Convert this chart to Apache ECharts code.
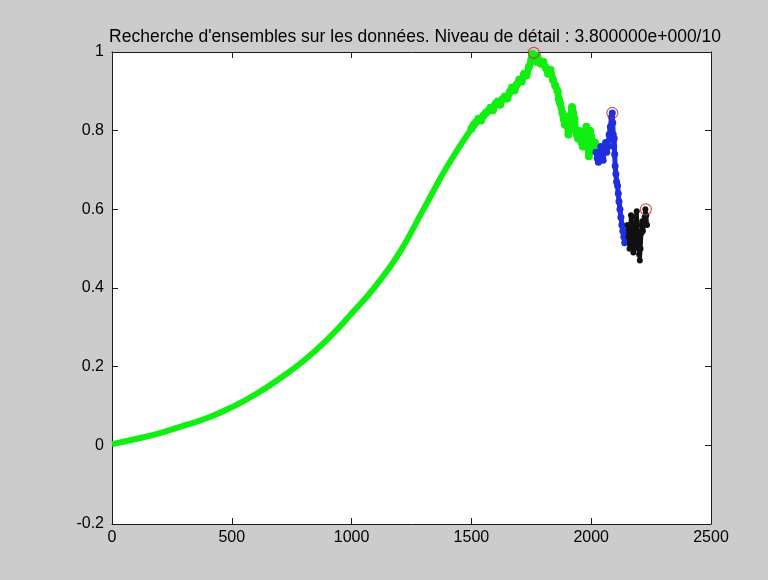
<!DOCTYPE html>
<html>
<head>
<meta charset="utf-8">
<script src="https://cdn.jsdelivr.net/npm/echarts@6/dist/echarts.min.js"></script>
<style>
html,body{margin:0;padding:0;background:#cccccc;}
#chart{width:768px;height:580px;}
</style>
</head>
<body>
<div id="chart"></div>
<script>
const titleText = "Recherche d'ensembles sur les données. Niveau de détail : 3.800000e+000/10";
const xTicks = [0, 500, 1000, 1500, 2000, 2500];
const yTicks = [-0.2, 0, 0.2, 0.4, 0.6, 0.8, 1];

// smooth green part
const greenSmoothX = [0, 100, 200, 300, 400, 500, 600, 700, 800, 900, 1000, 1100, 1200, 1300, 1400, 1500];
const greenSmoothY = [0.003, 0.016, 0.031, 0.05, 0.07, 0.097, 0.13, 0.17, 0.215, 0.27, 0.335, 0.405, 0.49, 0.6, 0.71, 0.805];

// noisy green part
const greenNoisyX = [1500,1510,1520,1530,1540,1550,1560,1570,1580,1590,1600,1610,1620,1630,1640,1650,1660,1670,1680,1690,1700,1710,1720,1730,1740,1750,1755,1760,1770,1775,1780,1790,1800,1810,1820,1830,1840,1850,1860,1865,1870,1880,1885,1890,1895,1900,1905,1910,1915,1920,1925,1930,1935,1940,1945,1950,1955,1960,1965,1970,1975,1980,1985,1990,1995,2000,2005,2010,2015,2020];
const greenNoisyY = [0.805,0.815,0.822,0.83,0.826,0.838,0.845,0.85,0.858,0.852,0.868,0.874,0.866,0.88,0.887,0.882,0.898,0.91,0.902,0.918,0.93,0.925,0.945,0.94,0.962,0.98,0.995,0.985,0.975,0.99,0.98,0.97,0.975,0.96,0.945,0.955,0.93,0.915,0.9,0.88,0.87,0.845,0.83,0.815,0.835,0.82,0.79,0.815,0.84,0.86,0.845,0.83,0.8,0.79,0.78,0.8,0.79,0.77,0.76,0.775,0.795,0.81,0.77,0.735,0.8,0.785,0.765,0.75,0.77,0.76];

// blue part
const blueX = [2020,2025,2030,2035,2040,2045,2050,2055,2060,2065,2070,2075,2080,2085,2088,2090,2092,2094,2096,2098,2100,2103,2106,2110,2113,2116,2120,2124,2128,2132,2136,2140,2144,2148,2152,2156];
const blueY = [0.745,0.73,0.72,0.74,0.76,0.735,0.725,0.75,0.77,0.745,0.76,0.79,0.81,0.835,0.845,0.82,0.79,0.76,0.78,0.74,0.71,0.69,0.67,0.66,0.64,0.62,0.6,0.58,0.56,0.545,0.53,0.515,0.535,0.52,0.54,0.555];

// black part
const blackX = [2152,2156,2160,2163,2166,2170,2173,2176,2180,2183,2186,2190,2193,2196,2200,2203,2206,2210,2213,2216,2220,2223,2226,2230,2233];
const blackY = [0.56,0.53,0.5,0.55,0.585,0.56,0.52,0.49,0.5,0.54,0.58,0.595,0.56,0.52,0.485,0.47,0.5,0.54,0.57,0.545,0.56,0.58,0.6,0.585,0.56];

// maxima circles
const peakX = [1760, 2088, 2228];
const peakY = [0.998, 0.845, 0.600];

const zip = (xs, ys) => xs.map((x, i) => [x, ys[i]]);

const font = 'Liberation Sans, Arial, sans-serif';
const axisColor = '#1a1a1a';

const chart = echarts.init(document.getElementById('chart'), null, {renderer: 'canvas'});
chart.setOption({
  backgroundColor: '#cccccc',
  animation: false,
  title: {
    text: titleText,
    left: 410, top: 23, textAlign: 'center',
    textStyle: {fontFamily: font, fontSize: 17.5, fontWeight: 'normal', color: '#000'}
  },
  grid: {left: 112, right: 57, top: 52, bottom: 56, show: true, backgroundColor: '#ffffff', borderWidth: 0},
  xAxis: [{
    type: 'value', min: 0, max: 2500, interval: 500, position: 'bottom',
    axisLine: {show: true, onZero: false, lineStyle: {color: axisColor, width: 1}},
    axisTick: {show: true, inside: true, length: 6, lineStyle: {color: axisColor}},
    axisLabel: {show: true, color: '#000', fontFamily: font, fontSize: 16, margin: 6,
      formatter: v => xTicks.includes(v) ? String(v) : ''},
    splitLine: {show: false}
  }, {
    type: 'value', min: 0, max: 2500, interval: 500, position: 'top',
    axisLine: {show: true, onZero: false, lineStyle: {color: axisColor, width: 1}},
    axisTick: {show: true, inside: true, length: 6, lineStyle: {color: axisColor}},
    axisLabel: {show: false}, splitLine: {show: false}
  }],
  yAxis: [{
    type: 'value', min: -0.2, max: 1, interval: 0.2, position: 'left',
    axisLine: {show: true, onZero: false, lineStyle: {color: axisColor, width: 1}},
    axisTick: {show: true, inside: true, length: 6, lineStyle: {color: axisColor}},
    axisLabel: {show: true, color: '#000', fontFamily: font, fontSize: 16, margin: 8,
      formatter: v => { const r = Math.round(v * 10) / 10; return yTicks.includes(r) ? String(r) : ''; }},
    splitLine: {show: false}
  }, {
    type: 'value', min: -0.2, max: 1, interval: 0.2, position: 'right',
    axisLine: {show: true, onZero: false, lineStyle: {color: axisColor, width: 1}},
    axisTick: {show: true, inside: true, length: 6, lineStyle: {color: axisColor}},
    axisLabel: {show: false}, splitLine: {show: false}
  }],
  series: [
    {type: 'line', data: zip(greenSmoothX, greenSmoothY), smooth: true, showSymbol: false,
      lineStyle: {color: '#11ee11', width: 6}, z: 2},
    {type: 'line', data: zip(greenNoisyX, greenNoisyY), symbol: 'circle', symbolSize: 8,
      itemStyle: {color: '#11ee11'}, lineStyle: {color: '#11ee11', width: 7}, z: 2},
    {type: 'line', data: zip(blueX, blueY), symbol: 'circle', symbolSize: 7,
      itemStyle: {color: '#1f2fe0'}, lineStyle: {color: '#1f2fe0', width: 5}, z: 3},
    {type: 'line', data: zip(blackX, blackY), symbol: 'circle', symbolSize: 6,
      itemStyle: {color: '#111111'}, lineStyle: {color: '#111111', width: 4}, z: 4},
    {type: 'scatter', data: zip(peakX, peakY), symbol: 'circle', symbolSize: 11,
      itemStyle: {color: 'rgba(0,0,0,0)', borderColor: '#c02a2a', borderWidth: 1.2}, z: 5}
  ]
});
</script>
</body>
</html>
